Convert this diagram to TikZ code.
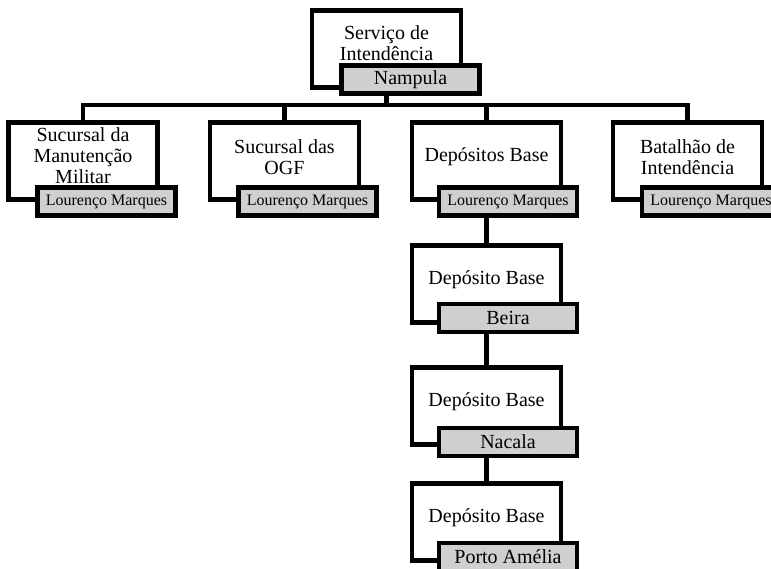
\documentclass[tikz,border=0pt]{standalone}
\usepackage{fontspec}
\setmainfont{Liberation Serif}
\tikzset{
  unitbox/.style={draw,line width=4.5pt,minimum width=149pt,minimum height=77pt,inner sep=0pt},
  unittext/.style={align=center,inner sep=0pt,font=\fontsize{20}{21}\selectfont},
  placebox/.style={draw,line width=4.5pt,fill=black!19,
    minimum width=138pt,minimum height=28pt,inner sep=0pt,font=\fontsize{20}{22}\selectfont},
  smallplace/.style={placebox,font=\fontsize{16}{18}\selectfont},
  link/.style={line width=4.5pt}
}
\begin{document}
\begin{tikzpicture}[x=1pt,y=-1pt]
\useasboundingbox (0,0) rectangle (771,569);
\coordinate (bus) at (0,105);
\node[unitbox] (svc) at (386.5,49) {};
\node[unittext] at (386.5,43) {Serviço de\\Intendência};
\node[placebox] (nam) at (410.5,79.5) {Nampula};
\node[unitbox] (smm) at (83,161) {};
\node[unittext] at (83,156) {Sucursal da\\Manutenção\\Militar};
\node[smallplace] (smmlm) at (106.5,201.5) {Lourenço Marques};
\node[unitbox] (ogf) at (284.5,161) {};
\node[unittext] at (284.5,157) {Sucursal das\\OGF};
\node[smallplace] (ogflm) at (307.5,201.5) {Lourenço Marques};
\node[unitbox] (dbs) at (486.5,161) {};
\node[unittext] at (486.5,157) {Depósitos Base};
\node[smallplace] (dbslm) at (508,201.5) {Lourenço Marques};
\node[unitbox] (bat) at (687.5,161) {};
\node[unittext] at (687.5,157) {Batalhão de\\Intendência};
\node[smallplace] (batlm) at (711,201.5) {Lourenço Marques};
\node[unitbox] (dbei) at (486.5,284) {};
\node[unittext] at (486.5,280) {Depósito Base};
\node[placebox] (bei) at (508,318) {Beira};
\node[unitbox] (dnac) at (486.5,406) {};
\node[unittext] at (486.5,402) {Depósito Base};
\node[placebox] (nac) at (508,442) {Nacala};
\node[unitbox] (dpam) at (486.5,522) {};
\node[unittext] at (486.5,518) {Depósito Base};
\node[placebox] (pam) at (508,557) {Porto Amélia};
\draw[link] (svc.south |- nam.south) -- (svc.south |- bus);
\draw[link] (smm.north) -- (smm.north |- bus) -- (bat.north |- bus) -- (bat.north);
\draw[link] (ogf.north) -- (ogf.north |- bus);
\draw[link] (dbs.north) -- (dbs.north |- bus);
\draw[link] (dbs.south |- dbslm.south) -- (dbei.north);
\draw[link] (dbei.south |- bei.south) -- (dnac.north);
\draw[link] (dnac.south |- nac.south) -- (dpam.north);
\end{tikzpicture}
\end{document}
